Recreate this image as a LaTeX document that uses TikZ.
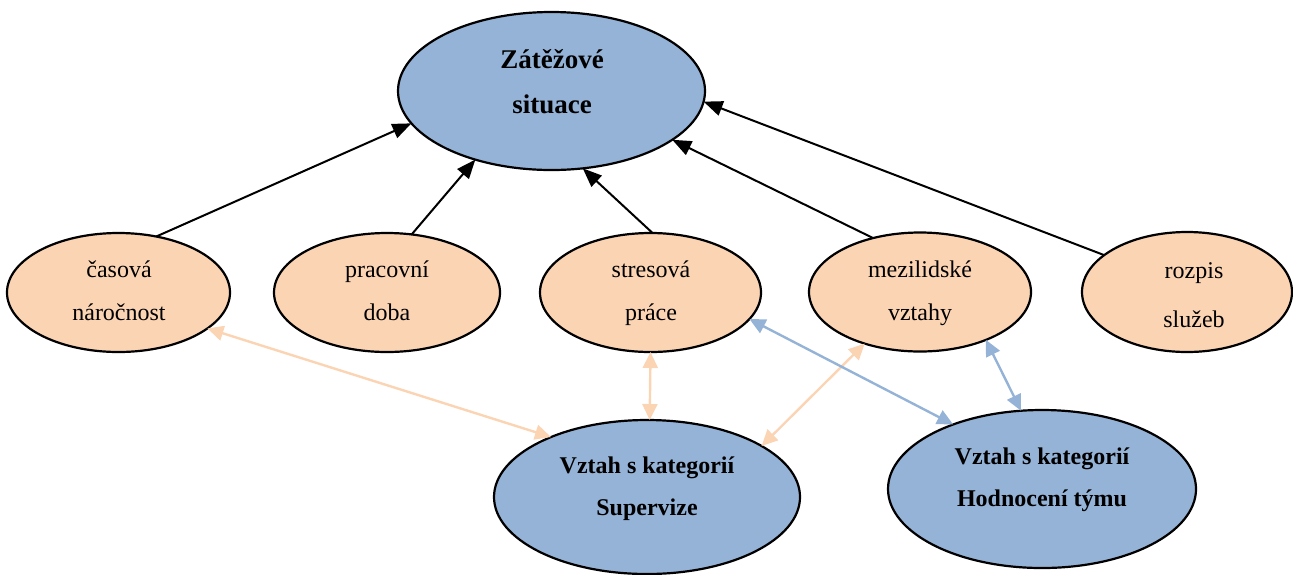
\documentclass[tikz,border=0pt]{standalone}
\usepackage{fontspec}
\setmainfont{Liberation Serif}
\usetikzlibrary{shapes.geometric,arrows.meta}
\definecolor{bluefill}{HTML}{95B3D7}
\definecolor{orangefill}{HTML}{FBD4B4}
\begin{document}
\begin{tikzpicture}[x=0.5pt,y=-0.5pt,
  ell/.style={ellipse,draw=black,line width=1.1pt,inner sep=0pt,outer sep=0pt},
  blell/.style={ell,fill=bluefill},
  orell/.style={ell,fill=orangefill},
  lbl/.style={anchor=base,align=center,inner sep=0pt,font=\fontsize{12}{21.5}\selectfont},
  blbl/.style={anchor=base,align=center,inner sep=0pt,font=\fontsize{12}{21}\selectfont\bfseries},
  blk/.style={line width=1pt,-{Triangle[length=9.5pt,width=7.5pt]}},
  oarr/.style={line width=1.2pt,draw=orangefill,{Triangle[length=8pt,width=7.5pt]}-{Triangle[length=8pt,width=7.5pt]}},
  barr/.style={line width=1.2pt,draw=bluefill,{Triangle[length=8pt,width=7.5pt]}-{Triangle[length=8pt,width=7.5pt]}}
]
\useasboundingbox (0,0) rectangle (1293,574);

% ellipses
\node[blell,minimum width=153.5pt,minimum height=79pt] (top) at (551.5,91) {};
\node[orell,minimum width=111.5pt,minimum height=59.5pt] (cas) at (118.5,292.5) {};
\node[orell,minimum width=113pt,minimum height=59.5pt] (pra) at (387,292.5) {};
\node[orell,minimum width=110.5pt,minimum height=59.5pt] (str) at (650.5,292.5) {};
\node[orell,minimum width=111pt,minimum height=59.5pt] (mez) at (920,292) {};
\node[orell,minimum width=105pt,minimum height=60pt] (roz) at (1187,292) {};
\node[blell,minimum width=153pt,minimum height=77pt] (sup) at (647,497) {};
\node[blell,minimum width=154pt,minimum height=79pt] (hod) at (1042,489) {};

% texts (base anchor = baseline of last line)
\node[blbl,font=\fontsize{13.5}{22.5}\selectfont\bfseries] (ttop) at (552,113) {Zátěžové\\situace};
\node[lbl] (tcas) at (119,320) {časová\\náročnost};
\node[lbl] (tpra) at (387,320) {pracovní\\doba};
\node[lbl] (tstr) at (651,320) {stresová\\práce};
\node[lbl] (tmez) at (920,320) {mezilidské\\vztahy};
\node[lbl,font=\fontsize{12}{24.5}\selectfont] (troz) at (1194,327) {rozpis\\služeb};
\node[blbl] (tsup) at (647,515) {Vztah s kategorií\\Supervize};
\node[blbl] (thod) at (1042,506) {Vztah s kategorií\\Hodnocení týmu};

% black arrows
\draw[blk] (cas.56) -- (top.193.8);
\draw[blk] (pra.67.5) -- (top.222.2);
\draw[blk] (str.88.5) -- (top.292.5);
\draw[blk] (mez.131.8) -- (top.338);
\draw[blk] (roz.156.5) -- (top.356.6);

% orange double arrows
\draw[oarr] (cas.338.8) -- (sup.148.7);
\draw[oarr] (str.270) -- (sup.88);
\draw[oarr] (mez.223.9) -- (sup.24.6);

% blue double arrows
\draw[barr] (str.345.2) -- (hod.144.6);
\draw[barr] (mez.324.4) -- (hod.105.6);
\end{tikzpicture}
\end{document}
